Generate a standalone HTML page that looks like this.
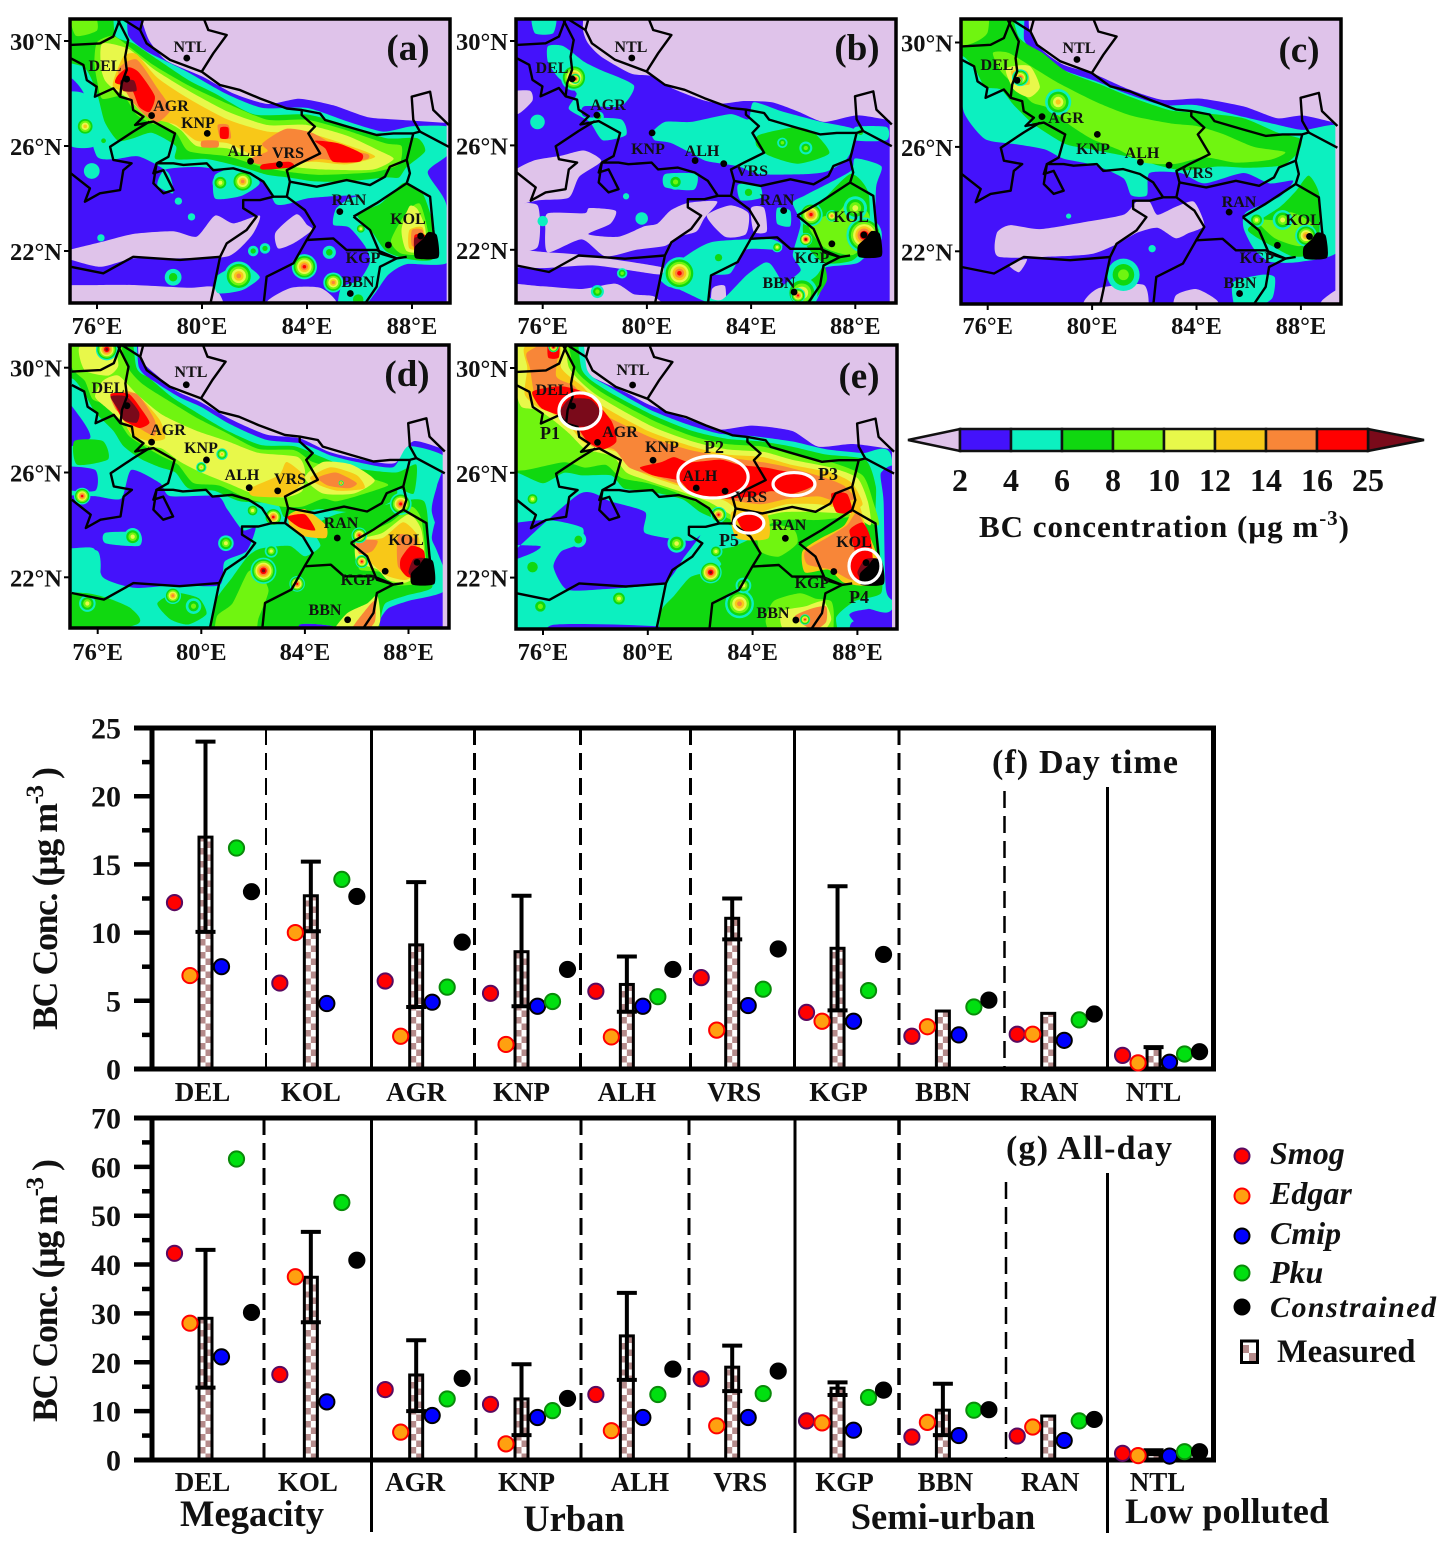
<!DOCTYPE html>
<html lang="en">
<head>
<meta charset="utf-8">
<title>BC concentration maps and station comparison</title>
<style>
html,body{margin:0;padding:0;background:#fff}
svg{display:block}
text{font-family:"Liberation Serif",serif;font-weight:bold;fill:#111}
</style>
</head>
<body>
<svg id="fig" xmlns="http://www.w3.org/2000/svg" width="1455" height="1553" viewBox="0 0 1455 1553">
<rect width="1455" height="1553" fill="#fff"/>
<defs id="defs"></defs>
<g id="maps"></g>

<g>
  <polygon points="908,440 960,429 960,451" fill="#dfc3ea" stroke="#111" stroke-width="2.5"/>
  <polygon points="1424,440 1368,429 1368,451" fill="#7a0a1a" stroke="#111" stroke-width="2.5"/>
  <rect x="960" y="429" width="51" height="22" fill="#4412fb" stroke="#111" stroke-width="2.5"/>
  <rect x="1011" y="429" width="51" height="22" fill="#0cf0c0" stroke="#111" stroke-width="2.5"/>
  <rect x="1062" y="429" width="51" height="22" fill="#10d810" stroke="#111" stroke-width="2.5"/>
  <rect x="1113" y="429" width="51" height="22" fill="#70f510" stroke="#111" stroke-width="2.5"/>
  <rect x="1164" y="429" width="51" height="22" fill="#e8f84a" stroke="#111" stroke-width="2.5"/>
  <rect x="1215" y="429" width="51" height="22" fill="#f8c818" stroke="#111" stroke-width="2.5"/>
  <rect x="1266" y="429" width="51" height="22" fill="#f88638" stroke="#111" stroke-width="2.5"/>
  <rect x="1317" y="429" width="51" height="22" fill="#ff0000" stroke="#111" stroke-width="2.5"/>
  <g font-size="32" text-anchor="middle">
    <text x="960" y="491">2</text>
    <text x="1011" y="491">4</text>
    <text x="1062" y="491">6</text>
    <text x="1113" y="491">8</text>
    <text x="1164" y="491">10</text>
    <text x="1215" y="491">12</text>
    <text x="1266" y="491">14</text>
    <text x="1317" y="491">16</text>
    <text x="1368" y="491">25</text>
  </g>
  <text x="979" y="537" font-size="31" textLength="370">BC concentration (µg m<tspan dy="-12" font-size="21">-3</tspan><tspan dy="12">)</tspan></text>
</g>

<g id="chartF">
  <g stroke="#000" fill="none">
    <line x1="266" x2="266" y1="728" y2="1069" stroke-width="2" stroke-dasharray="17 8"/>
    <line x1="371.5" x2="371.5" y1="728" y2="1069" stroke-width="3"/>
    <line x1="474.5" x2="474.5" y1="728" y2="1069" stroke-width="3" stroke-dasharray="17 8"/>
    <line x1="580.5" x2="580.5" y1="728" y2="1069" stroke-width="3" stroke-dasharray="17 8"/>
    <line x1="690.5" x2="690.5" y1="728" y2="1069" stroke-width="3" stroke-dasharray="17 8"/>
    <line x1="794.5" x2="794.5" y1="728" y2="1069" stroke-width="3"/>
    <line x1="899" x2="899" y1="728" y2="1069" stroke-width="3" stroke-dasharray="17 8"/>
    <line x1="1004.5" x2="1004.5" y1="791" y2="1069" stroke-width="2.5" stroke-dasharray="17 8"/>
    <line x1="1107.5" x2="1107.5" y1="787" y2="1069" stroke-width="3"/>
  </g>
</g>
<g id="chartG">
  <g stroke="#000" fill="none">
    <line x1="264" x2="264" y1="1118" y2="1460" stroke-width="3" stroke-dasharray="17 8"/>
    <line x1="371.5" x2="371.5" y1="1118" y2="1532" stroke-width="3"/>
    <line x1="476" x2="476" y1="1118" y2="1460" stroke-width="3" stroke-dasharray="17 8"/>
    <line x1="581" x2="581" y1="1118" y2="1460" stroke-width="3" stroke-dasharray="17 8"/>
    <line x1="689" x2="689" y1="1118" y2="1460" stroke-width="3" stroke-dasharray="17 8"/>
    <line x1="795" x2="795" y1="1118" y2="1533" stroke-width="3"/>
    <line x1="899" x2="899" y1="1118" y2="1460" stroke-width="3.5" stroke-dasharray="17 8"/>
    <line x1="1006" x2="1006" y1="1182" y2="1460" stroke-width="2.5" stroke-dasharray="17 8"/>
    <line x1="1107.5" x2="1107.5" y1="1173" y2="1533" stroke-width="3"/>
  </g>
</g>

<text transform="translate(57,1030) rotate(-90)" font-size="36" textLength="263">BC Conc. (µg m<tspan dy="-14" font-size="25">-3</tspan><tspan dy="14"> )</tspan></text>
<text transform="translate(57,1422) rotate(-90)" font-size="36" textLength="263">BC Conc. (µg m<tspan dy="-14" font-size="25">-3</tspan><tspan dy="14"> )</tspan></text>
<text x="992" y="773" font-size="34" textLength="186">(f) Day time</text>
<text x="1006" y="1159" font-size="34" textLength="166">(g) All-day</text>

<text x="252" y="1526" font-size="36.5" text-anchor="middle">Megacity</text>
<text x="574" y="1531" font-size="36.5" text-anchor="middle">Urban</text>
<text x="943" y="1529" font-size="36.5" text-anchor="middle">Semi-urban</text>
<text x="1125" y="1523" font-size="36" textLength="204">Low polluted</text>

<g id="legend">
  <g>
    <circle cx="1242" cy="1156" r="7.5" fill="#ff0000" stroke="#5a0a60" stroke-width="2"/>
    <text x="1270" y="1164" font-size="32" font-style="italic">Smog</text>
  </g>
  <g>
    <circle cx="1242" cy="1196" r="7.5" fill="#ffa010" stroke="#ff0000" stroke-width="2"/>
    <text x="1270" y="1204" font-size="32" font-style="italic">Edgar</text>
  </g>
  <g>
    <circle cx="1242" cy="1236" r="7.5" fill="#0000ff" stroke="#000" stroke-width="2"/>
    <text x="1270" y="1244" font-size="32" font-style="italic">Cmip</text>
  </g>
  <g>
    <circle cx="1242" cy="1273" r="7.5" fill="#00e010" stroke="#0a8a0a" stroke-width="2"/>
    <text x="1270" y="1283" font-size="32" font-style="italic">Pku</text>
  </g>
  <g>
    <circle cx="1242" cy="1307" r="8.5" fill="#000"/>
    <text x="1270" y="1317" font-size="30" font-style="italic" textLength="166">Constrained</text>
  </g>
  <g>
    <rect x="1241" y="1341" width="17" height="21" fill="#fff"/>
    <rect x="1241" y="1345" width="8" height="8" fill="#b58b8b"/>
    <rect x="1249" y="1353" width="9" height="8" fill="#b58b8b"/>
    <rect x="1241.5" y="1341" width="16" height="21.5" fill="none" stroke="#000" stroke-width="3"/>
    <text x="1277" y="1362" font-size="32.5">Measured</text>
  </g>
</g>
</svg>
<script>
/* ---------- bar chart data (µg m-3) ---------- */
const stations = ['DEL','KOL','AGR','KNP','ALH','VRS','KGP','BBN','RAN','NTL'];
const seriesNames = ['smog','edgar','cmip','pku','constrained'];

const dayTicks = [0,5,10,15,20,25];
const dayMeasured = [17.0,12.7,9.1,8.6,6.2,11.05,8.85,4.25,4.08,1.5];
const dayUpper = [24.0,15.2,13.7,12.7,8.25,12.5,13.4,null,null,1.6];
const dayLower = [10.05,10.1,4.55,4.6,4.2,9.5,4.3,null,null,null];
const daySmog = [12.2,6.3,6.45,5.55,5.7,6.7,4.15,2.4,2.55,1.0];
const dayEdgar = [6.85,10.0,2.4,1.8,2.35,2.85,3.5,3.1,2.55,0.45];
const dayCmip = [7.5,4.8,4.9,4.6,4.6,4.65,3.5,2.5,2.1,0.5];
const dayPku = [16.2,13.9,6.0,4.95,5.3,5.85,5.75,4.55,3.6,1.1];
const dayConstrained = [13.0,12.65,9.3,7.3,7.3,8.8,8.4,5.05,4.03,1.27];

const allTicks = [0,10,20,30,40,50,60,70];
const allMeasured = [29.0,37.4,17.4,12.5,25.4,19.0,14.7,10.2,9.0,1.8];
const allUpper = [43.0,46.7,24.5,19.6,34.2,23.4,15.9,15.6,null,2.0];
const allLower = [14.8,28.2,10.0,5.1,16.4,14.1,13.3,5.1,null,1.2];
const allSmog = [42.3,17.5,14.4,11.4,13.4,16.6,8.0,4.7,4.9,1.36];
const allEdgar = [28.0,37.5,5.7,3.3,6.0,7.0,7.6,7.7,6.75,0.9];
const allCmip = [21.1,11.9,9.1,8.7,8.7,8.7,6.1,5.0,4.0,0.8];
const allPku = [61.6,52.7,12.5,10.1,13.4,13.6,12.8,10.2,8.0,1.7];
const allConstrained = [30.2,40.9,16.7,12.6,18.6,18.2,14.3,10.3,8.3,1.7];

/* ---------- map data: station lon/lat ---------- */
const siteNames = ['NTL','DEL','AGR','KNP','ALH','VRS','RAN','KOL','KGP','BBN'];
const siteLon = [79.42,77.13,78.08,80.2,81.85,82.95,85.25,88.33,87.1,85.65];
const siteLat = [29.35,28.55,27.16,26.48,25.42,25.3,23.5,22.57,22.23,20.38];
const lonTicks = [76,80,84,88];
const latTicks = [30,26,22];

/* administrative boundaries: flat lon,lat lists */
const borders = [
 [76.88,30.9,77.64,30.42,77.89,29.91,78.78,29.28,79.99,28.83,80.69,28.32,81.45,28.13,82.21,27.81,83.23,27.43,83.8,27.37,84.5,27.24,84.69,26.99,85.77,26.67,86.65,26.42,87.29,26.48,88.05,26.48,88.3,26.55,89.4,25.97],
 [77.77,30.9,77.64,30.42],
 [80.05,30.9,80.24,30.42,80.94,30.23,80.43,29.53,79.99,28.83],
 [88.3,26.55,88.05,27,87.99,27.88,88.69,28.07,88.81,27.37,89.4,26.8],
 [76.75,30.9,77.19,30.04,77.07,29.4,77.13,28.9,76.94,28.39,76.88,27.88,77.32,27.75,77.38,27.37,77.77,27.12,77.45,26.8,78.15,26.93,78.97,26.48,78.72,25.59,78.27,25.34,78.91,25.34,79.29,25.28,80.18,25.34,80.43,25.08,81.19,25.15,81.83,24.96,82.34,24.64,82.72,24.07,83.23,24.07,83.35,24.64,83.23,25.08,83.73,25.34,84.5,25.72,84.05,26.48,84.3,26.74,83.8,27.18,83.8,27.37],
 [83.35,24.64,84.37,24.45,85.51,24.7,86.4,24.51,86.97,24.83,87.16,25.21,87.8,25.47,88.05,26.48],
 [75,29.85,76.11,29.91,76.62,30.17,76.9,30.9],
 [75,29.34,75.48,29.09,75.61,28.51,75.99,28.26,75.92,27.88,76.62,28.2,76.88,27.88],
 [78.0,26.93,77.38,26.55,76.5,25.97,76.62,25.47,77.32,25.34,77,25.08,76.88,24.32,76.11,24.2,75.54,23.88,75.73,24.39,75,24.96],
 [78.27,25.34,78.15,24.96,78.53,25.08,78.91,24.32,78.53,24.2,78.15,24.58,78.27,25.34],
 [82.72,24.07,82.21,23.94,81.57,23.94,81.57,23.63,82.08,23.31,81.7,22.8,80.94,22.29,80.69,21.78,80.43,20.51,80.3,19.9],
 [83.23,24.07,83.92,23.56,84.3,22.93,83.99,22.42,83.48,21.53,82.46,21.02,82.34,19.9],
 [85.77,23.31,86.65,23.82,87.8,24.58,88.69,24.07,88.81,22.8,88.94,21.78],
 [87.8,24.58,87.92,24.96,87.8,25.47],
 [85.77,23.31,86.4,22.8,86.78,21.91,87.41,21.72,87.8,21.78],
 [83.99,22.42,85,22.48,85.51,22.04,86.65,22.04,87.41,21.72,86.78,21.4,86.65,20.64,86.15,19.9],
 [75,21.4,76.24,21.15,77.38,21.78,79.16,21.66,80.69,21.78]
];
const deltaOutline = [88.1,22.15,88.4,22.45,88.62,22.72,88.95,22.6,89,21.75,88.15,21.72];

/* contour regions: [colour band key, flat lon,lat list] */
const layersA = [
 ['B',[74,32,77.3,32,77.7,30.8,78,30,78.65,29.25,80,28.65,81.2,28,82.5,27.6,83.7,27.8,85,27.55,86.3,27.1,87.5,27,89.6,26.86,90,26.85,90,19,74,19]],
 ['L',[74.6,21.95,76.2,22.35,77.4,22.65,78.9,22.75,79.8,22.55,80.5,23.35,81.2,23.05,82.2,23.35,81.9,22.6,81,21.8,79.2,21.72,77.4,21.72,76.1,21.4,74.6,21.8]],
 ['L',[82.8,22.7,83.6,23.4,84,23,84.2,22.8,83.5,22.3,82.9,22.1]],
 ['L',[74,20.6,76,20.7,77.5,20.7,79.5,20.6,80.5,20.6,80.5,19.5,74,19.5]],
 ['L',[82.5,20.1,83.4,20.6,84.5,20.6,85.1,20.1,85,19.5,82.5,19.5]],
 ['T',[74,31.5,76.9,31.5,77.2,30.2,77.9,29.6,79.3,28.9,80.9,28,82.3,27.45,84,27.45,85.5,26.95,86.9,26.55,88,26.75,89.5,26.7,89.4,25.7,88.6,25,89.3,23.8,89.4,21.6,87.8,21.5,87.1,21.1,86.6,20.4,86,19.7,85.2,19.7,85.3,20.6,86,20.9,86.4,21.6,86.2,22.2,85.6,22.9,85,23,85.1,23.6,85.6,24,86,24.1,85.2,24.1,84,24,83.3,23.8,82.8,23.8,82.3,24.7,81.2,25,79.9,25.2,78.6,25.1,78.3,24.5,78.9,24.2,78.7,25,77.6,25.6,76.7,25.5,76,25.6,75.6,27,75.5,28,75,28.6,74,28.9]],
 ['T',[74.6,28,75.5,28,76,27,75.9,26,75,26,74.6,27]],
 ['T',[80.5,24.9,81.5,25.2,82.2,24.6,81.5,24.1,80.5,24]],
 ['T',[80.5,21,81.5,21.5,82.2,21,81.5,20.5,80.6,20.4]],
 ['G',[74,31.5,76.4,31.5,76.7,30.2,77.4,29.9,78.3,29.3,79.5,28.5,80.5,28,82,27.2,84,27.2,85.5,26.8,87,26.3,88.2,26.3,88.5,25.8,87.8,25.2,87.5,24.8,87,24.8,85.5,24.65,84.3,24.65,83.3,24.8,82.5,24.9,81.5,25.2,80.2,25.5,79,25.5,79,26,78.1,26.5,77.4,26.3,76.8,26.2,76.3,26.9,76,28,75.5,29,74,29.5]],
 ['G',[85.9,23.4,86.8,23.8,87.7,24.6,88.4,24.2,88.8,23,88.8,21.7,87.8,21.7,87,22,86.5,22.7]],
 ['N',[76,29.95,76.6,30.2,77.2,29.8,78.2,29.05,79.5,28.3,81,27.6,82.5,27,84,27,85.5,26.6,87,26.1,87.6,26,87.5,25.3,86.5,25,84.5,24.9,83.4,25,82.3,25.2,81,25.6,79.5,25.8,79,26.5,78,26.9,77.5,27.2,77,27.9,76.2,27.8,76,28.5,75.9,29.2]],
 ['N',[75,31,75.9,31,76,30.4,75.2,30.2]],
 ['N',[87.2,22.4,87.8,23.5,88.3,23.8,88.6,22.8,88.6,21.9,87.6,21.9]],
 ['Y',[76.2,29.9,77.2,29.7,78.2,28.9,79.5,28.1,81,27.3,82.5,26.8,84,26.8,85.5,26.4,86.8,25.8,87.3,25.5,86.5,25.1,84.7,25.1,83.5,25.2,82.3,25.4,81,25.9,79.8,26,79.2,26.6,78.5,27,77.8,27.2,77.2,27.8,76.6,28.2,76.3,28.5,76.15,29]],
 ['Y',[87.6,22.8,87.9,23.7,88.2,23.6,88.5,22.9,88.5,22,87.8,22]],
 ['O',[77,29.4,77.5,29.5,78.3,28.6,79.5,27.8,81,27,82.5,26.55,84,26.5,85.5,26.05,86.6,25.6,85.5,25.3,84.3,25.4,83.2,25.35,82.2,25.5,81,26.1,79.8,26.2,79,26.8,78.3,27,77.6,27.4,77.2,28,76.6,28.3]],
 ['O',[87.9,22.8,88.4,22.9,88.5,22.1,87.9,22.1]],
 ['A',[76.8,28.9,77.5,29.3,78.3,28.2,78.8,27.4,78.3,26.9,77.8,27.2,77.2,27.9]],
 ['A',[80,26.2,80.6,26.2,80.6,25.95,80,25.95]],
 ['A',[80.6,26.8,81,26.8,81.1,26.3,80.7,26.3]],
 ['A',[82.3,26.1,83.2,26.65,84.2,26.5,85.3,25.9,86.3,25.7,86.3,25.5,85.4,25.4,84.5,25.5,83.5,25.3,82.2,25.3,81.8,25.5,82.5,25.8]],
 ['A',[88,22.8,88.4,22.8,88.4,22.2,88,22.2]],
 ['R',[77.2,29,77.6,28.8,78.2,27.9,78,27.3,77.6,27.5,77.3,28.2,76.7,28.4,76.8,28.7]],
 ['R',[80.7,26.7,81,26.7,81,26.3,80.7,26.3]],
 ['R',[82.3,25.3,83.3,25.4,83.5,25.2,82.3,25.1]],
 ['R',[84.3,26.2,85.2,26.1,86.1,25.7,86,25.4,85,25.4,84.7,25.9]],
 ['R',[88.1,22.6,88.5,22.6,88.5,22,88.1,22]],
 ['D',[76.9,28.5,77.4,28.5,77.5,28.1,77,28.1]],
 ['D',[88.1,22.5,88.4,22.5,88.3,22.1,88.1,22.1]]
];
const spotsA = [[75.55,26.75,4,.35],[76.25,26.2,1,.18],[80.7,24.6,3,.3],[81.55,24.65,5,.42],[81.4,21.05,5,.55],[78.9,21,1,.32],[83.9,21.4,6,.48],[84.85,21.95,1,.25],[85,20.8,5,.38],[82.4,22.1,1,.2],[81.95,22.0,1,.2],[75.8,25.05,0,.3],[79.1,23.9,0,.14],[79.6,23.3,0,.14],[76.15,22.5,0,.14],[85.95,20.15,1,.4],[86.05,22.85,3,.2]];

const layersB = [
 ['B',[74,32,77.3,32,77.55,30.4,77.75,29.9,78.25,29.4,79.4,28.75,80.2,28.65,81.05,28.15,82.1,27.75,82.85,27.6,83.75,27.7,84.8,27.65,85.8,27.3,86.8,26.9,88.1,27.15,89.6,26.91,90,26.9,90,19,74,19]],
 ['L',[74.6,28,75.5,28.1,75.6,27.7,75,27.2]],
 ['L',[76.2,23.4,77.6,23.4,77.8,23.6,78.8,23.5,78.6,23,77.75,22.6,78.9,22.5,79.9,22.9,80.4,23,80.9,23.5,81.6,23.8,82.7,23.85,82.2,23.2,81.9,22.7,81.2,22.5,80.7,22.15,79.6,22,78.4,21.75,77.5,22.4,76.2,21.9,76.1,22.8]],
 ['L',[75.6,25.4,76.7,25.6,77.6,25.8,78.25,25.4,77.4,24.8,77,24,75.85,23.9,74.6,23.7,74.6,24.8]],
 ['L',[74.6,23.6,75.8,23.7,75.8,22.1,74.6,22]],
 ['L',[74.6,22,76.2,21.9,77.5,21.8,80.5,21.35,80.5,21.05,78,21.4,76,21.3,74.6,21.4]],
 ['L',[74,20.7,76,20.6,77.5,20.5,78.8,20.7,79.5,20.3,80.3,20.2,80.5,19.5,74,19.5]],
 ['L',[84,23.6,84.5,23.6,84.6,22.7,84.1,22.7]],
 ['L',[82.3,23.3,83.2,23.7,83.9,23.4,83.8,22.6,83,22.5]],
 ['L',[82.5,20.5,83,20.6,83,19.5,82.5,19.5]],
 ['T',[75.6,31,76.5,31,76.4,30.3,75.7,30.3]],
 ['T',[76.2,29.8,76.8,29.8,77.6,29.2,78.2,28.9,79.5,28.3,79,27.5,77.6,27.5,77.6,27.1,79,27,79.2,26.4,78.3,26.2,77.8,26.9,77,27.4,77.3,28,76.6,28.6,76.2,29.2]],
 ['T',[80.2,26.5,80.7,26.9,81.7,26.9,83.2,27.2,83.9,27,84.1,27.65,85.2,27.3,86.7,26.9,88,26.6,87.9,25.9,87.6,25.4,86.9,25,86.1,24.9,84.3,24.9,83.5,25.2,82.3,25.4,81.7,25.7,80.9,26.1,80.3,26.2]],
 ['T',[88,25.5,89,25.2,88.8,24.4,88.7,22.3,88.1,21.5,86.8,21.3,86.7,20.5,86.3,19.8,85.2,19.8,85.1,20.5,85.9,21.2,85.6,21.8,85.9,23,85.6,23.8,86.1,24.1,87.8,25]],
 ['T',[85,23.6,85.5,23.5,85.5,22.9,85,23]],
 ['T',[80.5,21,81.7,21.9,82.5,22.3,83.8,22.4,84.8,22.4,85.2,22.2,85,22,83.8,22,83.2,21.1,82.5,21,82.4,20.2,82.9,20.1,83.8,21,84.5,21.5,84.8,21.4,85.3,20.5,85.2,19.9,84.1,19.9,83,20,82.3,20,81.2,20.5,80.8,20.6]],
 ['T',[83.5,24.5,84.3,24.5,84.4,24,83.6,23.9]],
 ['T',[80.7,24.9,81.9,24.9,81.8,24.3,80.7,24.4]],
 ['T',[88,26.7,89.2,26.7,89.2,26.2,88,26.2]],
 ['G',[84.3,26.4,85.7,26.7,86.4,26.5,87,25.7,85.8,25.3,84.7,25.6,84.2,26]],
 ['G',[86,23,86.5,23.6,87.8,24.9,88.5,24.2,88.5,22.4,87.9,21.6,86.8,21.5,86.1,22.2]],
 ['G',[85.9,20,85.6,20.3,86.5,21,86.8,21.4,86.9,20.8,86.3,19.9]],
 ['N',[86.2,23,87.4,23.5,87.8,24,88.5,23.4,88.6,22.5,87.9,21.8,86.8,22.1]]
];
const spotsB = [[77.2,28.6,6,.5],[77.25,28.55,7,.2],[88.34,22.56,7,.68],[86.3,23.35,6,.45],[85.95,20.35,4,.6],[85.8,20.25,6,.28],[81.25,21.1,6,.62],[82.75,21.7,1,.28],[79.05,21.1,2,.2],[78.1,20.4,2,.25],[81.1,24.6,2,.3],[83.9,24.2,1,.28],[86.1,22.4,7,.25],[85,22.1,3,.2],[87.1,23.3,5,.22],[78.15,27.1,1,.2],[88,23.6,3,.45],[85.2,26.1,2,.2],[86.1,25.9,2,.25],[75.8,26.9,0,.28],[76,23.1,0,.2],[79.8,23.2,0,.24],[79.2,24.05,0,.12],[88.2,26.5,1,.2]];

const layersC = [
 ['B',[74,32,77.3,32,77.6,30.5,78.1,29.7,78.9,29.15,80.05,28.8,81.3,28.25,82.7,27.8,84.15,27.85,85.8,27.55,87.1,27.1,88.1,27.2,89.6,26.86,90,26.85,90,19,74,19]],
 ['L',[76.35,22.7,76.85,23,78,22.85,79.6,23.1,81.2,23.4,81.7,23.9,82.2,23.9,82.5,23.4,83.2,23.7,83.9,23.9,84.3,23,83.7,22.7,83.2,22.5,82.5,22.9,81.7,22.7,81,22.3,80,21.9,78.5,21.8,76.4,21.8]],
 ['L',[79.7,20.1,80.3,20.6,82,20.7,82,19.5,79.7,19.5]],
 ['L',[83.2,19.5,83.2,20.3,84,20.55,84.8,20.1,84.8,19.5]],
 ['L',[89.6,20.6,88.8,20.1,88.7,19.5,89.6,19.5]],
 ['L',[76.8,21.5,77.5,21.7,77.2,21.2]],
 ['T',[74,32,77.2,32,77.4,30.1,77.9,29.7,78.9,28.95,80.2,28.5,81.3,28.05,82.7,27.6,84,27.6,85.8,27.15,87.1,26.85,88.1,26.65,89.5,26.8,89.4,25.2,89.5,22.1,88,21.6,86.8,21.6,86.2,22.1,85.8,22.9,85.9,23.5,87.2,24.1,87.7,24.7,86.8,24.6,85.8,25,84.3,24.6,83.4,25,82.2,25,82.1,24.15,81.5,24.15,81.2,24.8,80.1,25.3,78.9,25.55,78.2,25.9,77.1,26.1,75.9,26.3,75.1,27.3,74.8,28.9,74,29]],
 ['T',[85.4,20.8,86.5,21.1,87,21,86.9,20.2,86.2,19.8,85.5,19.8]],
 ['G',[74,32,76.5,32,77.2,30.2,78.1,29.6,79,28.9,80.3,28.4,81.5,27.9,83,27.4,84.2,27.3,85.8,27.1,87.1,26.55,88,26.3,87.9,25.8,87.3,25.3,86,25.2,84.8,25.25,83.5,25.1,82.5,25.3,81.5,25.6,80,25.9,79,26.1,78,26.7,77.6,27,77,27.6,76.5,28.2,75.9,28.3,75.5,29,75,29.5,74,29.5]],
 ['G',[86,22.9,87.2,23.7,87.8,24.3,88.3,24.9,88.7,24.2,88.7,22.6,88.5,21.9,87.7,21.8,86.9,22.2,86.2,22.6]],
 ['N',[74,32,75.9,32,76,30.4,75.2,29.9,74,29.9]],
 ['N',[76.2,29.6,76.8,29.6,77.8,29,78.8,28.4,80.2,27.7,81.5,27.2,83,26.9,84,26.8,85,26.5,86.2,26,87.4,25.8,86.8,25.5,85.5,25.4,84.3,25.6,83.2,25.35,82,25.4,81,25.9,80,26.3,79.2,26.8,78.3,27.5,77.7,27.7,77.1,28.3,76.5,28.9]],
 ['N',[86.3,23.2,87,23.2,87.6,23.5,88.4,23.1,88.5,22.4,87.9,22.2,87,22.5]],
 ['Y',[76.7,29,77.6,29.1,78,28.3,77.6,27.9,77,28.2]],
 ['O',[76.9,28.9,77.5,28.9,77.6,28.4,77.1,28.4]]
];
const spotsC = [[77.25,28.65,6,.32],[77.2,28.55,7,.14],[78.7,27.72,4,.5],[86.3,23.2,3,.28],[87.3,23.2,3,.38],[88.2,22.6,5,.42],[81.2,21.1,2,.62],[82.3,22.1,0,.14],[79.1,23.35,0,.1]];

const layersD = [
 ['B',[74,32,77.3,32,77.6,30.4,78.3,29.7,79.05,29.1,79.95,28.7,81.1,28.05,82.5,27.45,83.8,27.3,84.9,26.8,85.9,26.55,87.45,26.35,88.2,27.2,89.6,26.81,90,26.8,90,19,74,19]],
 ['T',[74,32,77.2,32,77.6,30,78.3,29.4,79.2,28.85,80,28.5,81.1,27.85,82.5,27.25,83.9,27.1,85,26.65,86,26.4,87.4,26.2,88,27,89.4,26.6,89.1,25.5,88.9,24.5,89.4,23,89.4,21.5,88,21.1,87.2,20.8,86.8,20.2,86.7,19.5,74,19.5]],
 ['B',[74.6,25,75.85,25.1,76.9,25,77.3,26.1,78.4,25.6,78.8,25.1,80.6,25.1,81,24.6,81.6,23.8,82.1,23.9,81.75,23,80.9,22.6,80.7,21.7,78.9,21.7,77.4,21.6,76.2,22,75.85,23.1,74.6,23.2]],
 ['B',[74.6,26.2,75.9,26.1,75.9,25.3,74.6,25.4]],
 ['B',[74.5,29,75.4,28,75.7,27.3,74.5,27]],
 ['B',[83.8,19.4,83.8,20.2,85.2,20.1,85.2,19.4]],
 ['B',[86.9,19.4,87.3,20,88.8,20.6,89.6,21,89.6,24.7,89.1,24.3,88.9,23.5,89.1,23,89.6,21.6,89.6,19.4]],
 ['T',[76.3,23.7,77.6,23.7,77.6,23.2,76.3,23.3]],
 ['T',[74.6,23,76,23,76,21.9,74.6,22]],
 ['G',[74,32,77,32,77.5,30,78,29.6,78.9,28.85,79.8,28.3,81,27.6,82.3,27.05,83.6,27,84.5,26.65,85.7,26.2,87.5,26,88.3,26.3,88.2,25.2,87.6,25.4,87.5,25,86.5,24.5,85.5,24.5,84.5,24.6,83.8,24.4,83.2,24.3,82.9,24.8,81.5,24.9,80.5,25.3,79.5,25.4,79,26,78.4,26.2,77.7,26.5,77,27,76.6,27.6,75.9,28.3,75.5,29,75,29.6,74,29.6]],
 ['G',[84.3,23.9,85.2,24.4,86.8,24.7,88.6,24.9,88.8,22.5,88.9,21.6,87.9,21.3,87.1,21,86.9,20.3,86.7,19.4,85.2,19.4,85.2,20.1,83.8,20.2,83.8,19.4,82.5,19.4,82.3,20.1,81.8,19.4,80.4,19.4,80.5,21,81.2,22,81.8,22.8,82.3,23.1,83.4,23.2,84,22.8,84.6,23.2]],
 ['G',[74,21.3,75.5,21.4,76.4,21.2,77.3,20.8,77.5,20.2,74,19.5]],
 ['G',[79,21.4,79.9,21.2,80.2,20.6,79.5,20.2,78.8,20.4,78.3,21]],
 ['G',[75.1,27.2,76.2,27.2,76.4,26.5,75.2,26.3]],
 ['N',[74.5,31.5,76.6,31.5,77.1,30.1,77.7,29.4,78.8,28.7,79.8,28.1,81,27.5,82.2,26.9,83.6,26.85,84.3,26.4,85.5,26.1,86.8,25.7,87.2,25.5,86,25.1,85.2,24.9,84.7,25,83.9,24.7,83.1,24.7,81.8,25,80.7,25.5,79.7,25.6,79.1,26.3,78.5,26.6,77.8,27,77.2,27.4,76.8,28,76.3,28.6,75.8,28.8,75.5,29.5,75,30]],
 ['N',[86,23.5,87.3,24.1,88.1,24.7,88.5,24.2,88.7,22.4,88.5,21.8,87.5,21.7,86.9,22.2,86.1,22.3,86.1,23]],
 ['N',[80.6,20.5,81.2,21,81.8,22.2,82.2,22.2,82.6,21.5,82.2,20.4,82,19.5,80.6,19.5]],
 ['Y',[75.3,30.8,76.5,31,76.8,30.1,76.4,29.7,75.5,29.9]],
 ['Y',[76.2,29.5,76.8,29.7,77.5,29,78.5,28.2,79.8,27.6,81,27.2,82.2,26.75,83.7,26.6,84,26.1,83.9,25.3,83.2,25.05,82,25.2,81,25.6,80,26,79.2,26.4,78.5,26.9,78,27,77.4,27.3,77,27.9,76.3,28.5,75.9,28.9]],
 ['Y',[84,25.8,84.7,26.4,85.8,26.3,86.7,25.7,85.9,25.2,84.7,25.2]],
 ['Y',[86,23.4,87,23.7,88,24.4,88.5,23.8,88.6,22.3,87.9,21.8,87.2,21.9,86.8,22.3,86,22.6]],
 ['Y',[85,19.7,85.6,20.6,86.4,21,86.8,21.3,86.9,20.3,86.4,19.6]],
 ['O',[83.4,24.4,84,24.6,84.8,24,84.8,23.5,83.8,23.6,83.4,24]],
 ['O',[77,29.1,77.6,28.9,78.4,28,78.6,27.3,78,27.2,77.4,27.4,77,28]],
 ['O',[81.9,25.4,83,25.9,83.3,26.4,84,25.8,83.3,25.1,82,25.1]],
 ['O',[84.2,25.8,85,26.2,86,25.9,86.3,25.4,85.3,25.3,84.6,25.5]],
 ['O',[86,23.4,87,23.5,87.8,24.1,88.4,23.5,88.4,22.3,87.9,21.9,87.1,22.1,86.2,22.9]],
 ['A',[85.8,20,86.3,20.7,86.7,21.1,86.7,20.3,86.2,19.8]],
 ['A',[76.5,29,77.5,29,78.2,28,78.2,27.4,77.6,27.7,77,28.2,76.7,28.4]],
 ['A',[84.5,25.8,85.2,26,86,25.6,85.7,25.4,84.9,25.5]],
 ['A',[87.6,23.6,88.2,23.5,88.4,22.6,88.2,22.1,87.6,22.4]],
 ['A',[86,23.4,86.8,23.4,86.6,23,86.1,22.9]],
 ['R',[83.3,24.3,84,24.4,84.4,23.8,83.8,23.9]],
 ['R',[76.5,29,77.2,29,77.7,28.4,78,27.9,77.6,27.7,77,28,76.7,28.5]],
 ['R',[87.7,22.7,88.1,23.2,88.6,23,88.6,22.1,88,22,87.7,22.3]],
 ['D',[76.5,28.9,77.1,28.9,77.6,28.3,77.5,27.9,77,28,76.8,28.4]],
 ['D',[88,22.2,88.2,22.7,88.7,22.7,88.7,22.1,88.2,22]]
];
const spotsD = [[76.35,30.7,7,.42],[75.4,25.1,6,.32],[81.98,24.55,3,.25],[82.78,24.3,6,.35],[77.35,23.55,3,.33],[80.95,23.3,3,.3],[82.7,23,3,.25],[82.4,22.25,7,.5],[83.7,21.75,6,.3],[78.9,21.3,5,.32],[79.7,20.9,2,.3],[75.6,21,3,.32],[87.7,24.8,6,.42],[86.1,23.6,6,.3],[86.2,22.6,6,.25],[85.4,25.6,6,.1],[80.8,26.7,4,.22],[80,26.2,4,.2]];

const layersE = [
 ['B',[74,32,77.3,32,77.4,30.3,77.65,29.8,78.3,29.45,79.2,29.05,80.05,28.6,81.5,28.05,82.7,27.65,84,27.8,85.5,27.6,86.5,27,87.85,27.1,89.6,26.86,90,26.85,90,19,74,19]],
 ['T',[74,32,77.2,32,77.7,29.9,78.5,29.3,80.1,28.4,81.5,27.85,82.7,27.5,84,27.4,85.5,27.2,86.8,26.9,88.2,26.75,89.3,26.6,89.4,21,88.4,20.8,87.7,20.6,87.4,19.5,74,19.5]],
 ['B',[77.4,25.2,78.6,24.9,79.9,24.5,79.9,23.7,81.6,23.4,82,23.6,81.4,22.8,80.6,21.8,78.2,21.55,76.9,21.55,76.4,22.4,76.7,23,77.4,23.3,77.5,23.9,76.2,24.2,74.6,24,74.6,23.3,75.9,23.2,75.5,22.9,74.6,22.7]],
 ['B',[76.4,19.4,76.4,20.2,80.8,20.1,80.8,19.4]],
 ['B',[88.9,26,89.6,26,89.6,20.8,87.8,20.3,87.9,19.4,89.6,19.4,89.6,20.9,89.1,21.5,89,24.9]],
 ['B',[81.7,19.4,84,19.4,84,20,82.5,20]],
 ['G',[74,32,77,32,77.5,29.9,78.5,29.1,80.2,28.2,81.7,27.6,83,27.3,84.3,27.2,85.5,27,86.8,26.7,88.3,26.5,88.7,25.5,88.7,24.5,88.9,22.5,88.9,21.4,87.9,21.1,87.2,20.5,87,19.4,82.7,19.4,82.6,20,81.5,19.4,80.5,19.4,80.5,20.7,81,21.3,81.6,22,82.2,22.2,82.8,22.5,82.5,23,83.3,23.2,84,23.6,82.9,24.1,82,24.5,81.3,25,80,25.3,79.1,25.4,78.6,25.9,77.5,25.9,76.8,26,76,25.6,75,26,74,26]],
 ['N',[74.5,32,76.6,32,77.2,30,78.2,29.1,80.2,28,81.7,27.4,83,27.1,84.4,27,85.5,26.7,87,26.4,88.2,25.9,88.6,24.9,88.8,24,87.8,24.3,86.5,24.2,85.2,24.2,84.5,24,83.9,24,83.2,24.2,82.4,24.6,81.2,25.2,80,25.6,79,25.8,78.4,26.3,77.6,26.2,76.8,26.4,75.3,26.1,74.5,26.2,75,27.5,75,29.5]],
 ['N',[84.8,21.1,85.8,21.4,86.4,21.2,87,21.1,87.1,20.5,86.9,19.5,85,19.5,84.5,20.3]],
 ['N',[84.2,23.8,85,24,85.6,23.8,85.7,23.3,85,22.8,84.3,23]],
 ['Y',[75,31,76.7,31.5,77,30,78,29,80.1,27.8,81.7,27.2,83,26.9,84.4,26.8,85.5,26.5,87,26.2,88,25.8,88.4,24.9,88.5,24,87.8,24.4,86.5,24.5,85.2,24.5,84.3,24.3,83.7,24.1,83,24.5,82.3,24.9,81.2,25.3,80,25.7,79.2,26,78.7,26.6,78,26.8,77.6,26.9,77,27.5,76.4,28,75.8,28.4,75.2,28.5,75,29,75,30]],
 ['Y',[85.1,20.7,86,20.9,86.7,21.1,87,20.4,86.5,19.8,85.2,20]],
 ['O',[75.3,30.8,76.6,31.2,76.7,30,77.5,29.3,78.2,28.6,80,27.6,81.7,27,83,26.7,84.4,26.6,85.5,26.3,87,26,87.8,25.6,88.2,24.8,87.7,24.6,86.5,24.8,85.3,24.8,84.3,24.5,83.7,24.4,83,24.9,82.2,25.2,81.2,25.5,80,25.9,79.2,26.3,78.8,26.8,78,27,77.5,27.2,77,27.8,76.3,28.3,75.8,28.5,75.3,29,75.4,30]],
 ['O',[85.9,23,86.6,23.5,87.5,24,88,24.9,88.3,24,88.7,23,88.9,22.2,88.4,21.7,87.5,21.8,86.9,22.3,86,22.2]],
 ['O',[83.2,24.5,84.5,24.5,84.6,23.5,83.4,23.5]],
 ['A',[75.4,30.6,76.6,31.1,76.5,29.7,77.2,29.3,78,28.4,80,27.4,81.5,26.9,83,26.6,84.4,26.4,85.4,26.2,86.8,25.8,87.5,25.5,87.9,25,87.2,24.9,86.5,25.1,85.3,25,84.3,24.8,83,25,81.7,25.4,80.2,25.9,79.3,26.2,78.7,26.9,77.9,27,77.4,27.5,76.9,28.1,75.8,28.6,75.5,30]],
 ['A',[86,23,86.8,23.5,87.6,24,88,24.5,88.4,23.6,88.6,22.2,87.8,21.9,87,22.3,86.1,22.5]],
 ['A',[85.6,20.5,86.2,20.8,86.8,20.9,86.8,20.3,86.3,20]],
 ['R',[75.6,29.1,76.7,29.3,77.7,29,78.6,28,78.8,27.2,78.3,26.9,77.7,27.2,77.1,28,76.3,28.3,75.9,28.5]],
 ['R',[79.7,26.2,80.5,26.4,81,26.6,81.6,26.4,82.8,26.5,83.5,26.3,84.5,26.2,85,26.1,86.1,25.9,86.3,25.5,85.5,25.2,84.7,25.3,84,25.1,82.5,25,81.6,25.3,81.2,25.7,80.2,25.9]],
 ['R',[76.2,31,76.6,31,76.6,30.4,76.2,30.4]],
 ['R',[83.4,24.35,84.3,24.4,84.4,23.85,83.7,23.75]],
 ['R',[87.7,23.8,88.2,24.1,88.5,23.5,88.6,22,88,21.9,87.7,22.5,87.9,23]],
 ['R',[87,25.2,87.6,25.2,87.8,24.5,87.2,24.5]],
 ['D',[77,28.8,77.8,28.8,78.2,28.3,77.8,27.8,77.1,27.8,76.6,28.2]],
 ['D',[88,22.2,88.3,22.7,88.8,22.7,88.8,22.05,88.2,21.9]]
];
const spotsE = [[75.6,25,3,.25],[77.35,23.45,1,.3],[81.1,23.3,3,.35],[82.6,23,3,.25],[82.4,22.2,7,.42],[78.9,21.2,3,.3],[75.9,20.9,2,.3],[75.6,22.4,1,.4],[83.5,21,5,.55],[83.65,21.7,3,.3],[82.7,24.4,6,.3],[86,20.4,6,.2],[76.4,30.8,7,.2]];

/* station label placement for each map panel */
const labelsA = [['NTL',190,46],['DEL',105,65],['AGR',171,105],['KNP',198,122],['ALH',245,150],['VRS',288,152],['RAN',349,199],['KOL',408,218],['KGP',363,257],['BBN',358,281]];
const labelsB = [['NTL',631,46],['DEL',552,67],['AGR',608,104],['KNP',648,148],['ALH',702,150],['VRS',752,170],['RAN',777,199],['KOL',851,216],['KGP',812,257],['BBN',779,282]];
const labelsC = [['NTL',1079,47],['DEL',997,64],['AGR',1066,117],['KNP',1093,148],['ALH',1142,152],['VRS',1197,172],['RAN',1239,201],['KOL',1303,219],['KGP',1257,257],['BBN',1240,282]];
const labelsD = [['NTL',191,371],['DEL',108,387],['AGR',168,429],['KNP',201,447],['ALH',242,474],['VRS',290,478],['RAN',341,522],['KOL',406,539],['KGP',358,579],['BBN',325,609]];
const labelsE = [['NTL',633,369],['DEL',552,389],['AGR',620,431],['KNP',662,446],['ALH',700,475],['VRS',751,496],['RAN',789,524],['KOL',854,541],['KGP',812,582],['BBN',773,612],['P1',550,433],['P2',714,447],['P3',828,474],['P4',859,597],['P5',729,540]];
/* hotspots in panel e: lon, lat, lon radius, lat radius */
const hotspots = [[77.41,28.36,.8,.69],[82.49,25.84,1.34,.8],[85.58,25.57,.8,.44],[88.29,22.44,.61,.65],[83.86,24.08,.57,.38]];

const bandColor = {L:'#dfc3ea',B:'#4412fb',T:'#0cf0c0',G:'#10d810',N:'#70f510',Y:'#e8f84a',O:'#f8c818',A:'#f88638',R:'#ff0000',D:'#7a0a1a'};
const spotOrder = ['T','G','N','Y','O','A','R','D'];

const panels = [
 {id:'a',fx:70,fy:19,fw:380,fh:284,x76:97,dx:26.25,y30:41,dy:26.25,layers:layersA,spots:spotsA,labels:labelsA,letterX:408,letterY:60,xBase:334},
 {id:'b',fx:516,fy:19,fw:380,fh:284,x76:542.7,dx:26.05,y30:41,dy:26.1,layers:layersB,spots:spotsB,labels:labelsB,letterX:857,letterY:60,xBase:334},
 {id:'c',fx:961,fy:19,fw:380,fh:285,x76:987.7,dx:26.1,y30:42.5,dy:26.1,layers:layersC,spots:spotsC,labels:labelsC,letterX:1299,letterY:62,xBase:334},
 {id:'d',fx:70,fy:345,fw:379,fh:283,x76:97.7,dx:25.9,y30:367.7,dy:26.2,layers:layersD,spots:spotsD,labels:labelsD,letterX:407,letterY:386,xBase:660},
 {id:'e',fx:516,fy:345,fw:381,fh:284,x76:543,dx:26.2,y30:368,dy:26.2,layers:layersE,spots:spotsE,labels:labelsE,letterX:859,letterY:388,xBase:660}
];

const NS = 'http://www.w3.org/2000/svg';
function make(tag, parent, attrs){
  const el = document.createElementNS(NS, tag);
  for(const k in attrs){ el.setAttribute(k, attrs[k]); }
  parent.appendChild(el);
  return el;
}
function smoothPath(pts){
  const n = pts.length, t = 9;
  let d = 'M' + pts[0][0].toFixed(1) + ' ' + pts[0][1].toFixed(1);
  for(let i=0;i<n;i++){
    const p0=pts[(i-1+n)%n],p1=pts[i],p2=pts[(i+1)%n],p3=pts[(i+2)%n];
    const c1x=p1[0]+(p2[0]-p0[0])/t,c1y=p1[1]+(p2[1]-p0[1])/t;
    const c2x=p2[0]-(p3[0]-p1[0])/t,c2y=p2[1]-(p3[1]-p1[1])/t;
    d += 'C'+c1x.toFixed(1)+' '+c1y.toFixed(1)+' '+c2x.toFixed(1)+' '+c2y.toFixed(1)+' '+p2[0].toFixed(1)+' '+p2[1].toFixed(1);
  }
  return d+'Z';
}
function drawMap(p){
  const lonX = lon => p.x76 + (lon-76)*p.dx;
  const latY = lat => p.y30 + (30-lat)*p.dy;
  const toPts = flat => { const r=[]; for(let i=0;i<flat.length;i+=2){ r.push([lonX(flat[i]),latY(flat[i+1])]); } return r; };
  const root = document.getElementById('maps');
  const defs = document.getElementById('defs');
  const clip = make('clipPath', defs, {id:'clip-'+p.id});
  make('rect', clip, {x:p.fx,y:p.fy,width:p.fw,height:p.fh});
  const g = make('g', root, {});
  
  
  const bg = make('rect', g, {x:p.fx,y:p.fy,width:p.fw,height:p.fh,fill:bandColor.L});
  
  
  const field = make('g', g, {'clip-path':'url(#clip-'+p.id+')'});
  
  
  p.layers.forEach(l => {
    const path = make('path', field, {d:smoothPath(toPts(l[1])),fill:bandColor[l[0]]});
    
    
  });
  p.spots.forEach(s => {
    for(let i=0;i<=s[2];i++){
      const k = s[3]*(s[2]-i+1)/(s[2]+1);
      const e = make('ellipse', field, {cx:lonX(s[0]),cy:latY(s[1]),rx:k*p.dx,ry:k*p.dy,fill:bandColor[spotOrder[i]]});
      
      
    }
  });
  const strip = make('rect', field, {x:lonX(89.32),y:p.fy,width:p.fx+p.fw-lonX(89.32),height:p.fh,fill:bandColor.L});
  
  
  borders.forEach(b => {
    const pts = toPts(b).map(q => q[0].toFixed(1)+','+q[1].toFixed(1)).join(' ');
    const line = make('polyline', field, {points:pts,fill:'none',stroke:'#000','stroke-width':2.4,'stroke-linejoin':'round'});
    
    
  });
  const delta = make('path', field, {d:smoothPath(toPts(deltaOutline)),fill:'#000'});
  
  
  if(p.id==='e'){
    hotspots.forEach(h => {
      const e = make('ellipse', field, {cx:lonX(h[0]),cy:latY(h[1]),rx:h[2]*p.dx,ry:h[3]*p.dy,fill:'none',stroke:'#fff','stroke-width':3.2});
      
      
    });
  }
  siteNames.forEach((n,i) => {
    const c = make('circle', g, {cx:lonX(siteLon[i]),cy:latY(siteLat[i]),r:3.4,fill:'#000'});
    
    
  });
  p.labels.forEach(l => {
    const big = l[0][0]==='P' && l[0].length===2;
    const t = make('text', g, {x:l[1],y:l[2]+6,'text-anchor':'middle','font-size':big?18:16});
    t.textContent = l[0];
    
    
  });
  const frame = make('rect', g, {x:p.fx,y:p.fy,width:p.fw,height:p.fh,fill:'none',stroke:'#000','stroke-width':3.5});
  
  
  lonTicks.forEach(v => {
    const x = lonX(v);
    const tick = make('line', g, {x1:x,x2:x,y1:p.fy+p.fh,y2:p.fy+p.fh+6,stroke:'#000','stroke-width':2});
    
    
    const t = make('text', g, {x:x,y:p.xBase,'text-anchor':'middle','font-size':24.5});
    t.textContent = v+'°E';
    
    
  });
  latTicks.forEach(v => {
    const y = latY(v);
    const tick = make('line', g, {x1:p.fx-6,x2:p.fx,y1:y,y2:y,stroke:'#000','stroke-width':2});
    
    
    const t = make('text', g, {x:p.fx-8,y:y+9,'text-anchor':'end','font-size':24.5});
    t.textContent = v+'°N';
    
    
  });
  const letter = make('text', g, {x:p.letterX,y:p.letterY,'text-anchor':'middle','font-size':37});
  letter.textContent = '('+p.id+')';
  
  
}
panels.forEach(drawMap);

/* ---------- station bar charts ---------- */
const markerStyle = {
  smog:{fill:'#ff0000',stroke:'#5a0a60'},
  edgar:{fill:'#ffa010',stroke:'#ff0000'},
  cmip:{fill:'#0000ff',stroke:'#000'},
  pku:{fill:'#00e010',stroke:'#0a8a0a'},
  constrained:{fill:'#000',stroke:'#000'}
};
const xS = i => 205.5 + i*105.34;
const markerOffset = {smog:-31,edgar:-15.5,cmip:16,pku:31,constrained:46};

function drawChart(cfg){
  const root = document.getElementById(cfg.rootId);
  const y = cfg.y;
  const bars = make('g', root, {});
  
  
  cfg.measured.forEach((v,i) => {
    const x = xS(i);
    const pat = make('pattern', document.getElementById('defs'), {id:cfg.key+'-check-'+i,patternUnits:'userSpaceOnUse',width:13,height:13,x:x-6.5,y:y(0)});
    make('rect', pat, {width:13,height:13,fill:'#fff'});
    make('rect', pat, {width:6.5,height:6.5,fill:'#b58b8b'});
    make('rect', pat, {x:6.5,y:6.5,width:6.5,height:6.5,fill:'#b58b8b'});
    const b = make('rect', bars, {x:x-6.5,y:y(v),width:13,height:y(0)-y(v),fill:'url(#'+cfg.key+'-check-'+i+')',stroke:'#000','stroke-width':3});
    
    
  });
  const errs = make('g', root, {stroke:'#000'});
  
  
  cfg.measured.forEach((v,i) => {
    const up = cfg.upper[i], lo = cfg.lower[i], x = xS(i);
    if(up===null) return;
    const base = lo===null ? v : lo;
    const stem = make('line', errs, {x1:x,x2:x,y1:y(base),y2:y(up),'stroke-width':4});
    
    
    const capU = make('line', errs, {x1:x-10,x2:x+10,y1:y(up),y2:y(up),'stroke-width':4});
    
    
    if(lo!==null){
      const capL = make('line', errs, {x1:x-10,x2:x+10,y1:y(lo),y2:y(lo),'stroke-width':4});
      
      
    }
  });
  const frame = make('g', root, {stroke:'#000'});
  
  
  const edges = [[134,y(cfg.max),1216,y(cfg.max),'top'],[134,y(0),1216,y(0),'bottom'],[152,y(cfg.max),152,y(0),'left'],[1213.5,y(cfg.max),1213.5,y(0),'right']];
  edges.forEach(e => {
    const l = make('line', frame, {x1:e[0],y1:e[1],x2:e[2],y2:e[3],'stroke-width':5});
    
    
  });
  for(let v=0; v<=cfg.max+1e-6; v+=cfg.minor){
    const isMajor = cfg.ticks.indexOf(v)>=0;
    const l = make('line', frame, {x1:isMajor?134:142,x2:152,y1:y(v),y2:y(v),'stroke-width':4.5});
    
    
  }
  cfg.ticks.forEach(v => {
    const t = make('text', root, {x:121,y:y(v)+10.5,'text-anchor':'end','font-size':30});
    t.textContent = v;
    
    
  });
  stations.forEach((s,i) => {
    const t = make('text', root, {x:xS(i)+cfg.labelNudge[i],y:cfg.labelY,'text-anchor':'middle','font-size':27});
    t.textContent = s;
    
    
  });
  seriesNames.forEach((name,si) => {
    const grp = make('g', root, {});
    
    
    cfg.series[si].forEach((v,i) => {
      const st = markerStyle[name];
      const c = make('ellipse', grp, {cx:xS(i)+markerOffset[name],cy:y(v),rx:7.6,ry:7.6,fill:st.fill,stroke:st.stroke,'stroke-width':2});
      
      
    });
  });
}
drawChart({
  rootId:'chartF',key:'day',max:25,minor:2.5,ticks:dayTicks,
  y:v => 1069 - v*13.64,
  measured:dayMeasured,upper:dayUpper,lower:dayLower,
  series:[daySmog,dayEdgar,dayCmip,dayPku,dayConstrained],
  labelY:1101,labelNudge:[-3,0,0,0,0,2,1,0,1,0]
});
drawChart({
  rootId:'chartG',key:'all',max:70,minor:5,ticks:allTicks,
  y:v => 1460 - v*4.886,
  measured:allMeasured,upper:allUpper,lower:allLower,
  series:[allSmog,allEdgar,allCmip,allPku,allConstrained],
  labelY:1491,labelNudge:[-3,-3,-1,5,13,8,7,2.5,2,4]
});
</script>
</body>
</html>
